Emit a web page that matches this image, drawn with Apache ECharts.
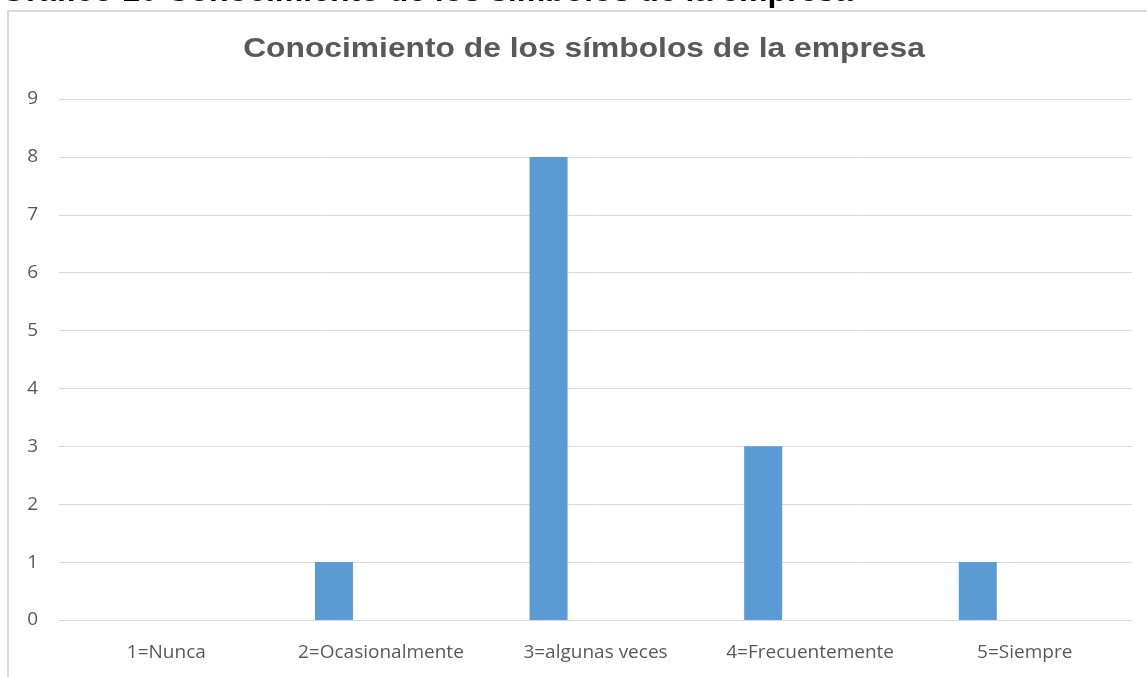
<!DOCTYPE html>
<html><head><meta charset="utf-8">
<script src="https://cdn.jsdelivr.net/npm/echarts@6/dist/echarts.min.js"></script>
<style>html,body{margin:0;padding:0;background:#fff;overflow:hidden}#c{width:1147px;height:677px}</style>
</head><body><div id="c"></div>
<script>
const heading = 'Gráfico 10 Conocimiento de los símbolos de la empresa';
const title = 'Conocimiento de los símbolos de la empresa';
const categories = ['1=Nunca', '2=Ocasionalmente', '3=algunas veces', '4=Frecuentemente', '5=Siempre'];
const counts = [0, 1, 8, 3, 1];
const emptySeries = [null, null, null, null, null];
const yTicks = [0, 1, 2, 3, 4, 5, 6, 7, 8, 9];

const chart = echarts.init(document.getElementById('c'), null, {renderer: 'canvas'});
chart.setOption({
  animation: false,
  graphic: [
    {type: 'rect', shape: {x: 8, y: 11, width: 1200, height: 700}, style: {fill: null, stroke: '#d9d9d9', lineWidth: 2}, z: 0},
    {type: 'text', left: 1, top: -24, style: {text: heading, font: 'bold 32px "Liberation Sans", Arial', fill: '#000'}},
    {type: 'text', x: 584, y: 49, scaleX: 1.135, style: {text: title, font: 'bold 28px "Liberation Sans", Arial', fill: '#595959', textAlign: 'center', textVerticalAlign: 'middle'}}
  ],
  grid: {left: 59, right: 15, top: 99, bottom: 57, containLabel: false},
  xAxis: {
    type: 'category', data: categories,
    axisLine: {show: true, lineStyle: {color: '#d9d9d9', width: 1}},
    axisTick: {show: false},
    axisLabel: {interval: 0, color: '#595959', fontSize: 19, fontFamily: 'Open Sans, Noto Sans, sans-serif', margin: 23}
  },
  yAxis: {
    type: 'value', min: yTicks[0], max: yTicks[yTicks.length - 1], interval: 1,
    axisLine: {show: false}, axisTick: {show: false},
    splitLine: {lineStyle: {color: '#d9d9d9', width: 1}},
    axisLabel: {color: '#595959', fontSize: 19, fontFamily: 'Open Sans, Noto Sans, sans-serif', margin: 21}
  },
  series: [
    {type: 'bar', data: counts, barWidth: 38, barGap: '147%', itemStyle: {color: '#5b9bd5'}},
    {type: 'bar', data: emptySeries, barWidth: 38, itemStyle: {color: '#ed7d31'}}
  ]
});
</script></body></html>
